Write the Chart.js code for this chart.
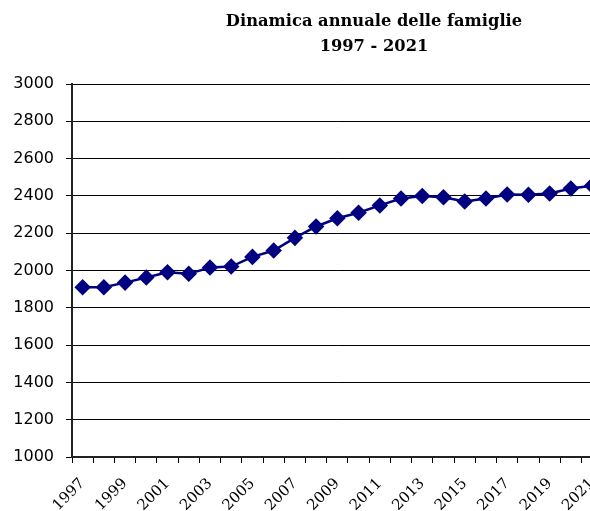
<!DOCTYPE html>
<html>
<head>
<meta charset="utf-8">
<script src="https://cdn.jsdelivr.net/npm/chart.js@4"></script>
<style>
  html, body { margin: 0; padding: 0; background: #fff; overflow: hidden; }
  #wrap { position: relative; width: 590px; height: 511px; overflow: hidden; }
  #box { position: absolute; left: 0; top: 0; width: 617px; height: 511px; }
  #titolo {
    position: absolute; left: 174px; width: 400px; top: 8px;
    text-align: center; font-family: "DejaVu Serif", serif;
    font-weight: bold; font-size: 16.3px; line-height: 25px; color: #000;
  }
</style>
</head>
<body>
<div id="wrap">
  <div id="box"><canvas id="myChart"></canvas></div>
  <div id="titolo">Dinamica annuale delle famiglie<br>1997 - 2021</div>
</div>
<script>
// anni e numero di famiglie
const anni = ['1997', '1998', '1999', '2000', '2001', '2002', '2003', '2004', '2005',
  '2006', '2007', '2008', '2009', '2010', '2011', '2012', '2013', '2014', '2015',
  '2016', '2017', '2018', '2019', '2020', '2021']
const famiglie = [1910, 1910, 1935, 1962, 1991, 1982, 2016, 2021, 2073,
  2107, 2175, 2236, 2280, 2310, 2349, 2386, 2400, 2393, 2370,
  2386, 2408, 2406, 2413, 2440, 2455]
const scalaY = [1000, 3000, 200]

const ctx = document.getElementById('myChart')

new Chart(ctx, {
  type: 'line',
  data: {
    labels: anni,
    datasets: [{
      label: 'Famiglie',
      data: famiglie,
      borderColor: '#000080',
      backgroundColor: '#000080',
      borderWidth: 2.5,
      pointStyle: 'rectRot',
      pointRadius: 6.5,
      pointHoverRadius: 6.5,
      tension: 0,
      clip: false
    }]
  },
  options: {
    responsive: true,
    maintainAspectRatio: false,
    animation: false,
    layout: { padding: { top: 84, left: 0, right: 0, bottom: 0 } },
    plugins: {
      legend: { display: false },
      tooltip: { enabled: false }
    },
    scales: {
      x: {
        offset: true,
        afterFit: (s) => { s.height = 54 },
        grid: { drawOnChartArea: false, offset: true, tickLength: 6, color: '#000', lineWidth: 1 },
        border: { color: '#222', width: 2 },
        ticks: {
          autoSkip: false,
          maxRotation: 45,
          minRotation: 45,
          padding: 12,
          color: '#000',
          font: { family: 'DejaVu Serif', size: 15 },
          callback: function(v, i) { return i % 2 === 0 ? anni[i] : '' }
        }
      },
      y: {
        min: scalaY[0],
        max: scalaY[1],
        afterFit: (s) => { s.width = 72 },
        grid: { color: '#000', lineWidth: 1, tickLength: 6 },
        border: { color: '#222', width: 2 },
        ticks: {
          stepSize: scalaY[2],
          padding: 12,
          color: '#000',
          font: { family: 'DejaVu Sans', size: 16 },
          callback: (v) => String(v)
        }
      }
    }
  }
})
</script>
</body>
</html>
